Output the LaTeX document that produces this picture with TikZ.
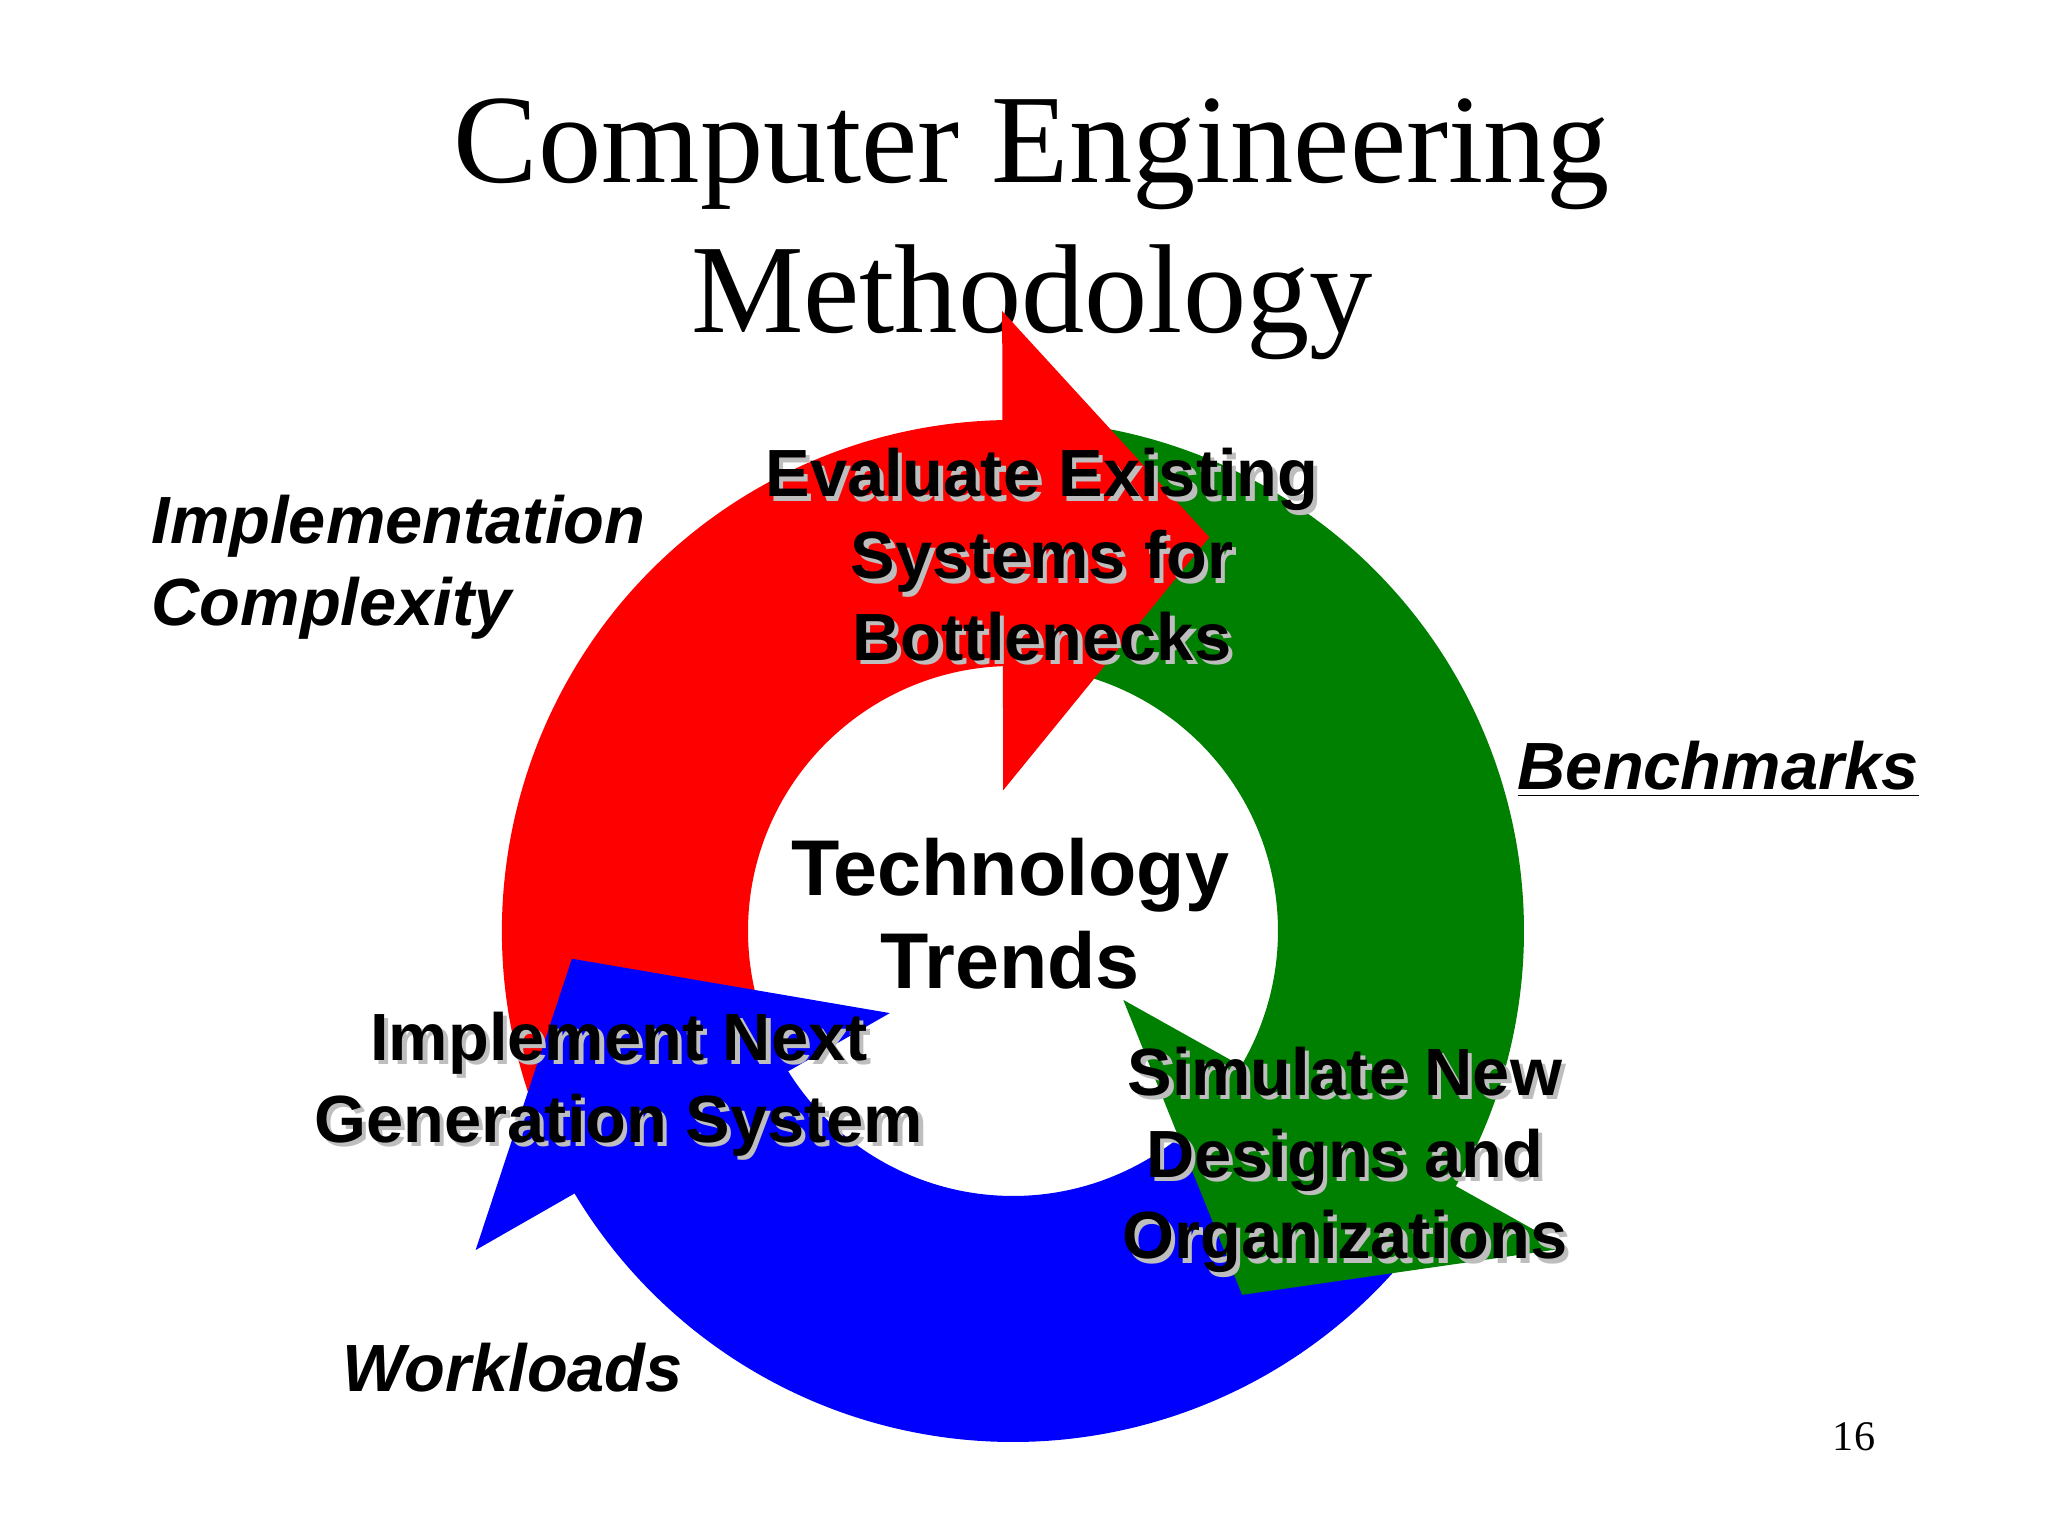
\documentclass[tikz,border=0pt]{standalone}
\usepackage{fontspec}
\setmainfont{Liberation Serif}
\newfontfamily\arialfont{Liberation Sans}
\definecolor{cred}{RGB}{255,0,0}
\definecolor{cgreen}{RGB}{0,128,0}
\definecolor{cblue}{RGB}{0,0,255}
\definecolor{shadowgray}{RGB}{190,190,190}
\tikzset{
    steplabel/.style={font=\arialfont\bfseries\fontsize{19}{23.3}\selectfont, align=center, inner sep=0pt},
    sidelabel/.style={font=\arialfont\bfseries\itshape\fontsize{19}{23.3}\selectfont, align=left, inner sep=0pt},
}
% label with a light grey drop shadow: name, position, text
\newcommand{\shadowlabel}[3]{%
    \node[steplabel, text=shadowgray, xshift=1.2pt, yshift=-1.2pt] at (#2) {#3};
    \node[steplabel] (#1) at (#2) {#3};
}
\begin{document}
\begin{tikzpicture}
    \useasboundingbox[fill=white] (0,0) rectangle (20.48,15.36);
    \node[font=\fontsize{36}{42.7}\selectfont, align=center, inner sep=0pt] (title) at (10.32,13.07)
        {Computer Engineering\\Methodology};
    % the ring of three arrows
    \begin{scope}[shift={(10.13,6.05)}]
        % bodies
        \fill[cred] (205:5.11) arc[start angle=205, end angle=89, radius=5.11]
            -- (89:2.65) arc[start angle=89, end angle=205, radius=2.65] -- cycle;
        \fill[cgreen] (82:5.11) arc[start angle=82, end angle=-32, radius=5.11]
            -- (-32:2.65) arc[start angle=-32, end angle=82, radius=2.65] -- cycle;
        \fill[cblue] (320:5.11) arc[start angle=320, end angle=210, radius=5.11]
            -- (210:2.65) arc[start angle=210, end angle=320, radius=2.65] -- cycle;
        % heads
        \fill[cred] (91:6.2) -- (63.5:4.4) -- (94:1.41) -- cycle;
        \fill[cgreen] (-29.8:6.38) -- (-57.8:4.3) -- (-32:1.3) -- cycle;
        \fill[cblue] (210.7:6.25) -- (183.6:4.42) -- (213.7:1.48) -- cycle;
    \end{scope}
    \node[font=\arialfont\bfseries\fontsize{22.5}{26.5}\selectfont, align=center, inner sep=0pt] (trends) at (10.10,6.22)
        {Technology\\Trends};
    \shadowlabel{evaluate}{10.42,9.81}{Evaluate Existing\\Systems for\\Bottlenecks}
    \shadowlabel{implement}{6.19,4.52}{Implement Next\\Generation System}
    \shadowlabel{simulate}{13.45,3.76}{Simulate New\\Designs and\\Organizations}
    \node[sidelabel, anchor=west] (complexity) at (1.51,9.69) {Implementation\\Complexity};
    \node[sidelabel, anchor=base west] (benchmarks) at (15.17,7.46) {\underline{Benchmarks}};
    \node[sidelabel, anchor=base west] (workloads) at (3.42,1.44) {Workloads};
    \node[font=\fontsize{12}{14}\selectfont, anchor=base, inner sep=0pt] (page) at (18.54,0.85) {16};
\end{tikzpicture}
\end{document}
